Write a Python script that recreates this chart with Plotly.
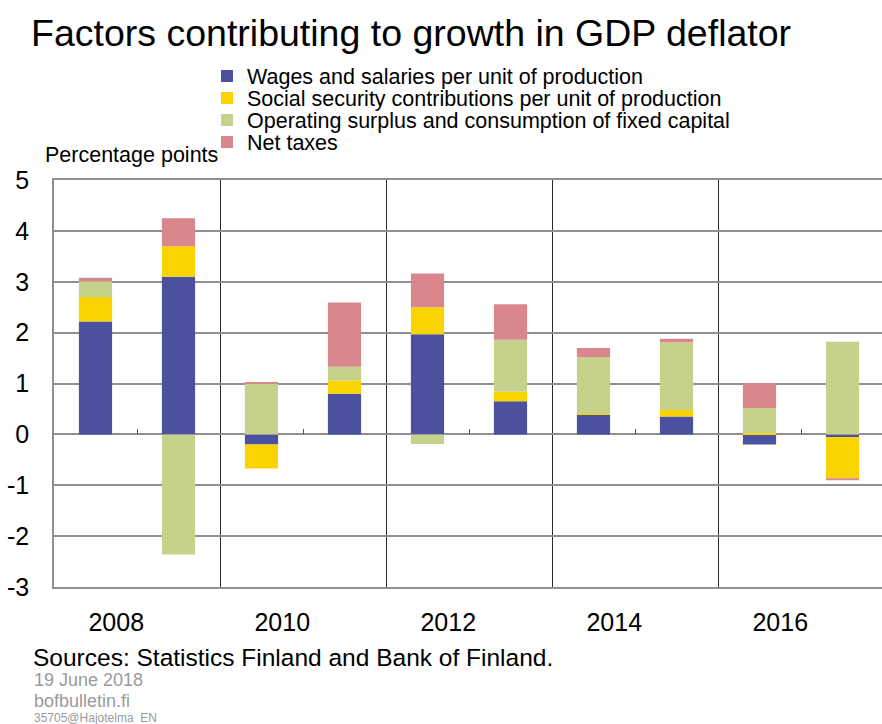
import plotly.graph_objects as go

years = [2008, 2009, 2010, 2011, 2012, 2013, 2014, 2015, 2016, 2017]
wages = [2.22, 3.10, -0.20, 0.80, 1.97, 0.65, 0.39, 0.35, -0.20, -0.05]
social = [0.48, 0.60, -0.47, 0.26, 0.53, 0.19, 0.02, 0.13, 0.02, -0.81]
surplus = [0.31, -2.36, 0.99, 0.27, -0.19, 1.02, 1.11, 1.33, 0.50, 1.82]
net_taxes = [0.07, 0.55, 0.04, 1.26, 0.66, 0.70, 0.18, 0.07, 0.49, -0.04]

series_names = [
    "Wages and salaries per unit of production",
    "Social security contributions per unit of production",
    "Operating surplus and consumption of fixed capital",
    "Net taxes",
]
colors = ["#4B519E", "#F9D400", "#C6D28B", "#D9878D"]

label_years = [2008, 2010, 2012, 2014, 2016]
y_ticks = [-3, -2, -1, 0, 1, 2, 3, 4, 5]
y_ticktext = [str(v) for v in y_ticks]
y_range = [-3, 5]

W, H = 882, 724
L, R, T, B = 54, 0, 180, 137
PW, PH = W - L - R, H - T - B
x_range = [years[0] - 0.5, years[0] - 0.5 + PW / 83.0]

legend_ids = ["legend", "legend2", "legend3", "legend4"]
legend_rows = [76, 98, 120, 142]

fig = go.Figure()
for name, vals, col, lg in zip(series_names, [wages, social, surplus, net_taxes], colors, legend_ids):
    fig.add_trace(go.Bar(x=years, y=vals, name=name, marker_color=col,
                         marker_line_width=0, width=0.4, legend=lg))
# empty helper trace so the zero-line tick axis is drawn
fig.add_trace(go.Scatter(x=[], y=[], xaxis="x2", yaxis="y", showlegend=False,
                         hoverinfo="skip"))

legend_layout = {}
for lg, row in zip(legend_ids, legend_rows):
    legend_layout[lg] = dict(xref="container", yref="container", x=207 / W,
                             y=1 - row / H, xanchor="left", yanchor="middle",
                             font=dict(size=21.5), itemwidth=30,
                             bgcolor="rgba(0,0,0,0)", borderwidth=0)

grid_col = "#8f8f8f"
fig.update_layout(
    width=W, height=H,
    margin=dict(l=L, r=R, t=T, b=B, autoexpand=False),
    barmode="relative",
    plot_bgcolor="white", paper_bgcolor="white",
    font=dict(family="Liberation Sans, Arial, sans-serif", color="#000"),
    title=dict(text="Factors contributing to growth in GDP deflator",
               xref="container", yref="container",
               x=31 / W, y=1 - 33 / H, xanchor="left", yanchor="middle",
               font=dict(size=37.5, color="#000")),
    xaxis=dict(range=x_range, tickvals=[y + 0.25 for y in label_years],
               ticktext=[str(y) for y in label_years], showgrid=False,
               ticks="", tickfont=dict(size=25), ticklabelstandoff=12,
               showline=True, linecolor=grid_col, linewidth=1.5, mirror=True,
               zeroline=False,
               minor=dict(tick0=label_years[0] + 1.5, dtick=2, showgrid=True,
                          gridcolor="#2a2a2a", gridwidth=1, ticks="")),
    xaxis2=dict(range=x_range, overlaying="x", anchor="free",
                position=(0 - y_range[0]) / (y_range[1] - y_range[0]),
                tickvals=[y + 0.5 for y in label_years],
                showticklabels=False, ticks="inside", ticklen=5,
                tickcolor="#555", tickwidth=1, showgrid=False,
                zeroline=False, showline=False),
    yaxis=dict(range=y_range, tickvals=y_ticks, ticktext=y_ticktext,
               tickfont=dict(size=25),
               showgrid=True, gridcolor=grid_col, gridwidth=1.5,
               zeroline=True, zerolinecolor=grid_col, zerolinewidth=1.5,
               showline=True, linecolor=grid_col, linewidth=1.5,
               ticks="", ticklabelstandoff=18),
    showlegend=True,
    **legend_layout,
)

def px_x(px):
    return (px - L) / PW

def px_y(py):
    return (H - B - py) / PH

annos = [
    dict(text="Percentage points", x=px_x(43), y=px_y(155), size=21.5, color="#000"),
    dict(text="Sources: Statistics Finland and Bank of Finland.", x=px_x(31), y=px_y(657), size=24.5, color="#000"),
    dict(text="19 June 2018", x=px_x(32), y=px_y(680), size=18, color="#9a9a9a"),
    dict(text="bofbulletin.fi", x=px_x(32), y=px_y(701), size=18, color="#9a9a9a"),
    dict(text="35705@Hajotelma_EN", x=px_x(32), y=px_y(717.5), size=12, color="#9a9a9a"),
]
for a in annos:
    fig.add_annotation(text=a["text"], x=a["x"], y=a["y"], xref="paper", yref="paper",
                       xanchor="left", yanchor="middle", showarrow=False,
                       font=dict(size=a["size"], color=a["color"]))

fig.write_html("out.html", config={"displayModeBar": False},
               post_script="document.body.style.margin='0';")
